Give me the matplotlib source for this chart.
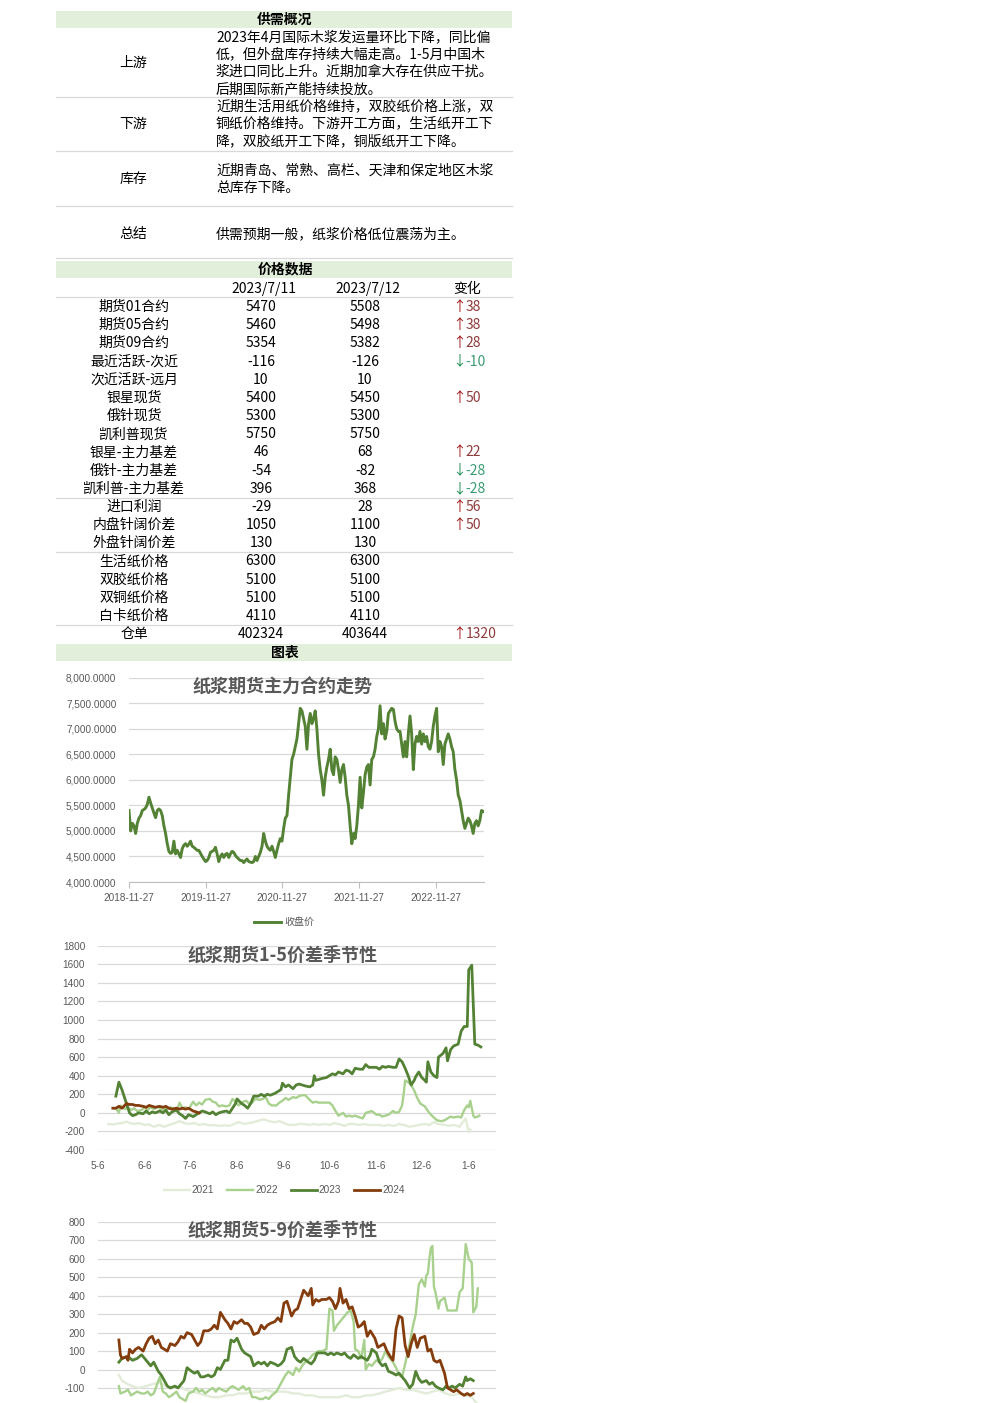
import matplotlib
matplotlib.use('Agg')
import matplotlib.pyplot as plt
from matplotlib.lines import Line2D
from matplotlib.patches import Rectangle
import pandas as pd

plt.rcParams['font.family'] = ['Noto Sans CJK SC', 'DejaVu Sans']
plt.rcParams['axes.unicode_minus'] = False

# ---------------- data: text table ----------------
overview_labels = ["上游", "下游", "库存", "总结"]
overview_text = [
    ["2023年4月国际木浆发运量环比下降，同比偏",
     "低，但外盘库存持续大幅走高。1-5月中国木",
     "浆进口同比上升。近期加拿大存在供应干扰。",
     "后期国际新产能持续投放。"],
    ["近期生活用纸价格维持，双胶纸价格上涨，双",
     "铜纸价格维持。下游开工方面，生活纸开工下",
     "降，双胶纸开工下降，铜版纸开工下降。"],
    ["近期青岛、常熟、高栏、天津和保定地区木浆",
     "总库存下降。"],
    ["供需预期一般，纸浆价格低位震荡为主。"],
]

price_cols = ["2023/7/11", "2023/7/12", "变化"]
price_labels = ["期货01合约", "期货05合约", "期货09合约", "最近活跃-次近", "次近活跃-远月",
                "银星现货", "俄针现货", "凯利普现货", "银星-主力基差", "俄针-主力基差",
                "凯利普-主力基差", "进口利润", "内盘针阔价差", "外盘针阔价差", "生活纸价格",
                "双胶纸价格", "双铜纸价格", "白卡纸价格", "仓单"]
price_d1 = [5470, 5460, 5354, -116, 10, 5400, 5300, 5750, 46, -54, 396, -29, 1050, 130,
            6300, 5100, 5100, 4110, 402324]
price_d2 = [5508, 5498, 5382, -126, 10, 5450, 5300, 5750, 68, -82, 368, 28, 1100, 130,
            6300, 5100, 5100, 4110, 403644]
price_chg = [38, 38, 28, -10, None, 50, None, None, 22, -28, -28, 56, 50, None,
             None, None, None, None, 1320]

# ---------------- data: chart 1 (main contract close) ----------------
c1_start, c1_end = "2018-11-27", "2023-07-12"
c1_ticks = ["2018-11-27", "2019-11-27", "2020-11-27", "2021-11-27", "2022-11-27"]
c1_close = [
    5400, 5000, 5150, 5100, 4950, 5150, 5250, 5300, 5400, 5420, 5450, 5520, 5660, 5550,
    5450, 5350, 5260, 5400, 5430, 5400, 5300, 5100, 4950, 4750, 4600, 4560, 4580, 4800,
    4550, 4620, 4550, 4480, 4650, 4720, 4750, 4700, 4740, 4800, 4700, 4680, 4650, 4620,
    4620, 4560, 4500, 4450, 4400, 4420, 4480, 4580, 4600, 4620, 4680, 4550, 4400, 4500,
    4550, 4480, 4540, 4560, 4480, 4550, 4600, 4580, 4520, 4480, 4450, 4420, 4420, 4380,
    4420, 4450, 4400, 4390, 4380, 4400, 4500, 4420, 4500, 4580, 4700, 4950, 4800, 4700,
    4650, 4620, 4700, 4600, 4480, 4620, 4750, 4850, 4800, 5050, 5250, 5300, 5700, 6050,
    6400, 6500, 6650, 6800, 7100, 7400, 7350, 7200, 7050, 6600, 7100, 7300, 7100, 7200,
    7350, 7000, 6500, 6200, 6000, 5700, 6050, 6250, 6400, 6600, 6200, 6100, 6450, 6400,
    6200, 5950, 6200, 6300, 6050, 5700, 5500, 5100, 4750, 4950, 4850, 5100, 5500, 6050,
    5450, 5750, 6100, 6250, 6300, 5900, 6400, 6450, 6600, 6850, 7000, 7450, 6900, 7100,
    6800, 6950, 7300, 7350, 7400, 7380, 7150, 7000, 6950, 6950, 6700, 6450, 6750, 6450,
    6900, 7250, 6900, 6200, 6700, 6850, 6750, 6950, 6700, 6900, 6750, 6850, 6650, 6600,
    6750, 7050, 7250, 7400, 6550, 6750, 6650, 6300, 6700, 6800, 6900, 6800, 6650, 6550,
    6200, 6000, 5700, 5600, 5400, 5200, 5050, 5150, 5250, 5200, 5100, 4950, 5150, 5200,
    5100, 5200, 5400, 5382]

# ---------------- data: seasonal charts (day offset from 5-6, value) ----------------
month_labels = ["5-6", "6-6", "7-6", "8-6", "9-6", "10-6", "11-6", "12-6", "1-6"]
years = ["2021", "2022", "2023", "2024"]

s15_2021 = [(7, -120), (10, -125), (13, -115), (16, -110), (19, -95), (21, -110), (24, -120),
            (27, -110), (31, -130), (34, -125), (37, -150), (41, -130), (44, -150), (47, -130),
            (51, -110), (54, -90), (57, -110), (60, -120), (64, -110), (67, -130), (70, -120),
            (74, -135), (77, -130), (80, -140), (84, -135), (87, -140), (90, -120), (93, -100),
            (97, -120), (100, -110), (103, -100), (107, -80), (110, -70), (113, -90), (117, -100),
            (120, -90), (123, -110), (126, -130), (130, -130), (133, -120), (136, -120),
            (140, -130), (143, -120), (146, -130), (150, -120), (153, -130), (156, -110),
            (159, -120), (163, -140), (166, -120), (169, -120), (173, -130), (176, -120),
            (179, -130), (183, -130), (186, -130), (189, -140), (192, -130), (196, -140),
            (199, -120), (202, -130), (206, -150), (209, -140), (212, -130), (216, -120),
            (219, -130), (222, -100), (225, -120), (229, -130), (232, -140), (235, -130),
            (239, -150), (241, -100), (243, -60), (245, -210), (246, -180)]
s15_2022 = [(12, 50), (14, 0), (15, 80), (18, 40), (20, 60), (22, 30), (24, 50), (26, 20),
            (29, 30), (31, 60), (33, 30), (35, 60), (37, 40), (40, 70), (42, 30), (44, 50),
            (46, 40), (48, 60), (51, 40), (53, 60), (54, 110), (56, 50), (58, 60), (60, 40),
            (63, 120), (65, 80), (67, 110), (69, 90), (71, 140), (74, 150), (76, 120), (78, 110),
            (80, 70), (82, 80), (85, 70), (87, 80), (89, 150), (91, 120), (93, 80), (96, 120),
            (98, 130), (100, 100), (102, 110), (104, 150), (107, 140), (109, 150), (111, 170),
            (113, 100), (115, 80), (118, 80), (120, 110), (122, 130), (124, 160), (126, 140),
            (129, 170), (131, 160), (133, 180), (135, 190), (137, 190), (140, 140), (142, 110),
            (144, 120), (146, 110), (148, 110), (151, 110), (153, 110), (155, 80), (157, 20),
            (159, -30), (162, 0), (164, -40), (166, -30), (168, -40), (170, -30), (173, -50),
            (175, -60), (177, 0), (179, 10), (181, 20), (184, -20), (186, -20), (188, -40),
            (190, -30), (192, -20), (195, 20), (197, 0), (199, 10), (201, 80), (202, 200),
            (203, 350), (205, 330), (207, 300), (209, 240), (211, 160), (213, 100), (216, 70),
            (218, 20), (220, -20), (222, -50), (224, -80), (227, -90), (229, -80), (231, -60),
            (233, -40), (235, -50), (238, -40), (240, -50), (242, 30), (244, 80), (245, 60),
            (246, 130), (248, -30), (249, -50), (251, -40), (252, -30)]
s15_2023 = [(12, 180), (14, 330), (16, 250), (19, 100), (21, 0), (23, -30), (25, -20), (27, 0),
            (30, -10), (32, 20), (34, -10), (36, 10), (38, 0), (41, 20), (43, 0), (45, 30),
            (47, -20), (49, 10), (52, 30), (54, -10), (56, -30), (58, -60), (60, -20), (63, -40),
            (65, -20), (67, 0), (69, 20), (71, 10), (74, -10), (76, 10), (78, -20), (80, 0),
            (82, 10), (85, 20), (87, 0), (89, 50), (91, 100), (92, 150), (95, 100), (97, 80),
            (99, 50), (101, 100), (103, 180), (106, 180), (108, 200), (110, 180), (112, 200),
            (114, 190), (117, 210), (119, 230), (121, 250), (122, 320), (124, 280), (126, 300),
            (129, 260), (131, 300), (133, 310), (135, 300), (137, 290), (140, 280), (142, 300),
            (143, 400), (144, 350), (146, 360), (148, 370), (151, 380), (153, 400), (155, 420),
            (157, 410), (159, 440), (162, 420), (164, 460), (166, 450), (168, 420), (170, 480),
            (173, 470), (175, 470), (177, 520), (179, 490), (181, 490), (184, 490), (186, 470),
            (188, 500), (190, 490), (192, 500), (195, 490), (197, 490), (199, 580), (201, 550),
            (203, 480), (205, 400), (207, 300), (209, 350), (210, 390), (212, 440), (214, 380),
            (216, 350), (217, 330), (218, 550), (220, 440), (222, 400), (224, 380), (225, 600),
            (228, 640), (230, 700), (231, 560), (233, 680), (235, 720), (238, 740), (240, 880),
            (242, 930), (244, 930), (245, 1540), (247, 1590), (249, 740), (251, 730), (253, 710)]
s15_2024 = [(10, 50), (12, 50), (14, 70), (16, 50), (19, 100), (21, 90), (23, 90), (25, 80),
            (27, 80), (30, 70), (32, 60), (34, 80), (36, 70), (38, 60), (41, 70), (43, 60),
            (45, 70), (47, 50), (49, 40), (52, 50), (54, 40), (56, 50), (58, 40), (60, 50),
            (63, 20), (65, 10), (67, 0)]

s59_2021 = [(14, -30), (16, -60), (20, -80), (23, -90), (27, -100), (32, -90), (36, -80),
            (41, -70), (45, -90), (49, -100), (54, -90), (58, -110), (63, -120), (67, -130),
            (71, -140), (76, -150), (80, -150), (85, -140), (89, -140), (93, -130), (98, -130),
            (102, -120), (107, -120), (111, -110), (115, -120), (120, -120), (124, -120),
            (129, -130), (133, -130), (137, -140), (142, -140), (146, -150), (151, -150),
            (155, -150), (159, -150), (164, -140), (168, -150), (173, -150), (177, -140),
            (181, -140), (186, -130), (190, -120), (195, -110), (199, -100), (203, -110),
            (208, -110), (212, -120), (217, -130), (221, -120), (225, -110), (230, -130),
            (234, -140), (239, -130), (243, -140), (247, -150), (250, -180)]
s59_2022 = [(14, -90), (15, -130), (18, -120), (20, -110), (22, -140), (24, -130), (26, -120),
            (29, -130), (31, -130), (33, -120), (35, -140), (37, -130), (41, -40), (43, -120),
            (45, -130), (47, -150), (49, -140), (52, -120), (54, -150), (56, -160), (58, -170),
            (60, -130), (63, -120), (65, -100), (67, -120), (69, -110), (71, -130), (74, -110),
            (76, -100), (78, -120), (80, -100), (82, -110), (85, -120), (87, -100), (89, -90),
            (91, -100), (93, -110), (96, -90), (98, -110), (100, -100), (102, -150), (104, -150),
            (107, -160), (109, -160), (111, -150), (113, -160), (115, -140), (118, -120),
            (120, -90), (122, -60), (124, -30), (126, -10), (129, -30), (131, 10), (133, -10),
            (135, 20), (137, 40), (140, 60), (142, 80), (144, 90), (146, 100), (148, 100),
            (151, 110), (153, 330), (155, 320), (156, 210), (158, 240), (161, 270), (163, 290),
            (165, 310), (167, 320), (169, 260), (170, 110), (172, 100), (174, 60), (176, 160),
            (177, 0), (179, 30), (181, 20), (184, 50), (186, 40), (188, 60), (190, 100),
            (192, 70), (195, 40), (197, 10), (199, -30), (201, -40), (203, 30), (206, 140),
            (208, 230), (210, 300), (211, 380), (212, 460), (214, 490), (216, 450), (217, 510),
            (218, 520), (219, 600), (220, 660), (221, 670), (222, 450), (223, 420), (225, 330),
            (226, 370), (229, 390), (231, 320), (233, 320), (235, 320), (237, 320), (239, 420),
            (241, 440), (243, 680), (245, 600), (247, 580), (248, 310), (250, 340), (251, 440)]
s59_2023 = [(14, 40), (16, 60), (20, 70), (23, 50), (26, 60), (29, 80), (31, 60), (33, 40),
            (35, 20), (37, 40), (40, -10), (42, -30), (44, -60), (46, -90), (48, -100), (51, -90),
            (53, -100), (55, -80), (57, -60), (59, 10), (62, -10), (64, -20), (66, -10),
            (68, -40), (70, -40), (73, -30), (75, -40), (77, -30), (79, 10), (81, 0), (84, 50),
            (86, 50), (88, 160), (90, 150), (92, 170), (95, 110), (97, 90), (99, 80), (101, 70),
            (103, 20), (106, 40), (108, 30), (110, 40), (112, 20), (114, 40), (117, 30),
            (119, 20), (121, 30), (123, 50), (125, 110), (128, 120), (130, 70), (132, 50),
            (134, 40), (136, 60), (139, 40), (141, 30), (143, 50), (145, 90), (147, 90),
            (150, 90), (152, 80), (154, 90), (156, 80), (158, 90), (161, 80), (163, 90),
            (165, 70), (167, 60), (169, 80), (172, 60), (174, 70), (176, 60), (178, 50),
            (180, 80), (181, 110), (184, 90), (186, 40), (188, 20), (190, 30), (192, -10),
            (195, -20), (197, -30), (199, -20), (201, -40), (203, -60), (206, -100), (208, -80),
            (210, -10), (212, -50), (214, -70), (217, -60), (219, -80), (221, -70), (223, -90),
            (225, -100), (228, -110), (230, -90), (232, -100), (234, -90), (236, -100),
            (239, -80), (241, -90), (243, -40), (244, -60), (246, -50), (248, -60)]
s59_2024 = [(14, 160), (15, 80), (16, 60), (19, 70), (20, 50), (21, 110), (23, 90), (25, 110),
            (27, 120), (30, 100), (32, 140), (34, 170), (36, 180), (38, 140), (40, 160),
            (42, 120), (44, 110), (46, 100), (48, 140), (51, 130), (53, 150), (55, 180),
            (57, 170), (59, 200), (62, 190), (64, 160), (66, 130), (68, 150), (70, 210),
            (73, 210), (75, 220), (77, 240), (79, 220), (81, 310), (84, 270), (86, 250),
            (88, 220), (90, 260), (92, 250), (95, 270), (97, 250), (99, 250), (101, 230),
            (103, 190), (106, 200), (108, 240), (110, 220), (112, 240), (114, 250), (117, 260),
            (119, 280), (121, 260), (123, 360), (125, 370), (128, 290), (130, 320), (132, 330),
            (134, 380), (136, 430), (139, 400), (141, 440), (142, 350), (144, 380), (146, 370),
            (148, 380), (151, 380), (153, 390), (155, 370), (157, 330), (159, 370), (160, 440),
            (162, 360), (164, 380), (166, 330), (168, 340), (170, 290), (172, 230), (174, 240),
            (176, 260), (178, 180), (180, 210), (183, 170), (185, 120), (187, 130), (189, 140),
            (191, 100), (194, 60), (195, 50), (197, 220), (199, 290), (201, 280), (203, 130),
            (205, 70), (207, 140), (209, 190), (211, 120), (213, 170), (216, 180), (218, 100),
            (220, 110), (222, 50), (224, 40), (226, 50), (229, -20), (231, -100), (233, -110),
            (235, -120), (237, -110), (240, -130), (242, -140), (244, -130), (246, -140),
            (248, -130)]

# ---------------- styles ----------------
W, H = 992, 1403
BAND = '#e2efda'
SEP = '#d9d9d9'
GRID = '#d9d9d9'
TXT = '#595959'
RED_ARROW, RED_TXT = '#a01818', '#8e3b3b'
GRN_ARROW, GRN_TXT = '#1e8a55', '#3a9c74'
COLORS = {"2021": '#e2ecd8', "2022": '#a9d18e', "2023": '#548235', "2024": '#843c0c'}
LW = {"2021": 1.7, "2022": 1.7, "2023": 2.0, "2024": 2.0}
NUMFONT = 'Liberation Sans'

fig = plt.figure(figsize=(W / 100, H / 100), dpi=100)
fig.patch.set_facecolor('white')


def fx(x):
    return x / W


def fy(y):
    return 1 - y / H


def ftext(x, y, s, **kw):
    kw.setdefault('fontsize', 10)
    kw.setdefault('va', 'center')
    fig.text(fx(x), fy(y), s, **kw)


def band(y0, y1, title):
    fig.add_artist(Rectangle((fx(56), fy(y1)), fx(512) - fx(56), fy(y0) - fy(y1),
                             transform=fig.transFigure, facecolor=BAND, edgecolor='none',
                             zorder=0))
    ftext(285, (y0 + y1) / 2, title, ha='center', fontweight='bold')


def hline(y):
    fig.add_artist(Line2D([fx(56), fx(512)], [fy(y), fy(y)], color=SEP, lw=0.9,
                          transform=fig.transFigure))


# ---------------- section 1: 供需概况 ----------------
band(11, 28, "供需概况")
label_y = [63, 124, 179, 234]
line_y0 = [37.5, 106.5, 171, 234]
for lab, ly, lines, y0 in zip(overview_labels, label_y, overview_text, line_y0):
    ftext(133, ly, lab, ha='center')
    for i, s in enumerate(lines):
        ftext(216, y0 + i * 17.2, s, ha='left')
for y in [96.5, 150.5, 205.5, 258]:
    hline(y)

# ---------------- section 2: 价格数据 ----------------
band(261, 278, "价格数据")
ftext(264, 288.5, price_cols[0], ha='center')
ftext(368, 288.5, price_cols[1], ha='center')
ftext(467, 288.5, price_cols[2], ha='center')
hline(296.5)
for i, lab in enumerate(price_labels):
    y = 307 + i * 18.17
    ftext(134, y, lab, ha='center')
    ftext(261, y, str(price_d1[i]), ha='center')
    ftext(365, y, str(price_d2[i]), ha='center')
    c = price_chg[i]
    if c is not None:
        if c > 0:
            ftext(459, y, "↑", ha='center', color=RED_ARROW)
            ftext(465.5, y, str(c), ha='left', color=RED_TXT)
        else:
            ftext(459, y, "↓", ha='center', color=GRN_ARROW)
            ftext(465.5, y, str(c), ha='left', color=GRN_TXT)
for y in [497.7, 552.3, 625.2]:
    hline(y)
band(644, 661, "图表")


def add_axes_px(left, top, right, bottom):
    return fig.add_axes([fx(left), fy(bottom), fx(right) - fx(left), fy(top) - fy(bottom)])


def style_axes(ax):
    for sp in ax.spines.values():
        sp.set_visible(False)
    ax.yaxis.grid(True, color=GRID, lw=0.9)
    ax.set_axisbelow(True)
    ax.tick_params(axis='y', length=0, pad=9)
    ax.set_facecolor('none')


# ---------------- chart 1 ----------------
ax1 = add_axes_px(129, 677.7, 484, 882)
style_axes(ax1)
dates = pd.date_range(c1_start, c1_end, periods=len(c1_close))
ax1.plot(dates, c1_close, color='#548235', lw=2.1, label="收盘价")
ax1.set_xlim(pd.Timestamp(c1_start), pd.Timestamp("2023-07-16"))
ax1.set_ylim(4000, 8000)
yt1 = [4000, 4500, 5000, 5500, 6000, 6500, 7000, 7500, 8000]
ax1.set_yticks(yt1, labels=[f"{v:,.4f}" for v in yt1], fontfamily=NUMFONT, fontsize=7.2,
               color=TXT)
ax1.set_xticks([pd.Timestamp(t) for t in c1_ticks], labels=c1_ticks, fontfamily=NUMFONT,
               fontsize=7.2, color=TXT)
ax1.spines['bottom'].set_visible(True)
ax1.spines['bottom'].set_color('#bfbfbf')
ax1.tick_params(axis='x', length=4, color='#bfbfbf', pad=4)
ftext(283, 687, "纸浆期货主力合约走势", ha='center', fontsize=13, fontweight='bold', color=TXT)
ax1.legend(loc='center', bbox_to_anchor=(fx(284), fy(922)), bbox_transform=fig.transFigure,
           frameon=False, fontsize=7.2, handlelength=2.7, handletextpad=0.3,
           labelcolor=TXT)

# ---------------- seasonal charts ----------------
base = pd.Timestamp("2023-05-06")
tick_days = [(base + pd.DateOffset(months=i) - base).days for i in range(len(month_labels))]


def seasonal(ax, series, ylim, yticks, title, title_y):
    style_axes(ax)
    for yr, data in zip(years, series):
        xs = [d for d, v in data]
        vs = [v for d, v in data]
        ax.plot(xs, vs, color=COLORS[yr], lw=LW[yr], label=yr, solid_joinstyle='round')
    ax.set_xlim(0, 263)
    ax.set_ylim(*ylim)
    ax.set_yticks(yticks, labels=[str(v) for v in yticks], fontfamily=NUMFONT, fontsize=7.2,
                  color=TXT)
    ax.set_xticks(tick_days, labels=month_labels, fontfamily=NUMFONT, fontsize=7.2, color=TXT)
    ax.tick_params(axis='x', length=0, pad=8)
    ftext(283, title_y, title, ha='center', fontsize=13, fontweight='bold', color=TXT)


ax2 = add_axes_px(97.7, 945.7, 496, 1150)
seasonal(ax2, [s15_2021, s15_2022, s15_2023, s15_2024], (-400, 1800),
         list(range(-400, 1801, 200)), "纸浆期货1-5价差季节性", 955)
ax2.legend(loc='center', bbox_to_anchor=(fx(284), fy(1190)), bbox_transform=fig.transFigure,
           frameon=False, ncol=4, handlelength=2.6, handletextpad=0.2,
           columnspacing=1.3, labelcolor=TXT, prop={'family': NUMFONT, 'size': 7.2})

ax3 = add_axes_px(97.7, 1222, 496, 1406.4)
seasonal(ax3, [s59_2021, s59_2022, s59_2023, s59_2024], (-200, 800),
         list(range(-100, 801, 100)), "纸浆期货5-9价差季节性", 1230)
ax3.yaxis.grid(True, color=GRID, lw=0.9)
ax3.tick_params(axis='x', labelbottom=False)

fig.savefig("out.png", dpi=100, facecolor='white')
